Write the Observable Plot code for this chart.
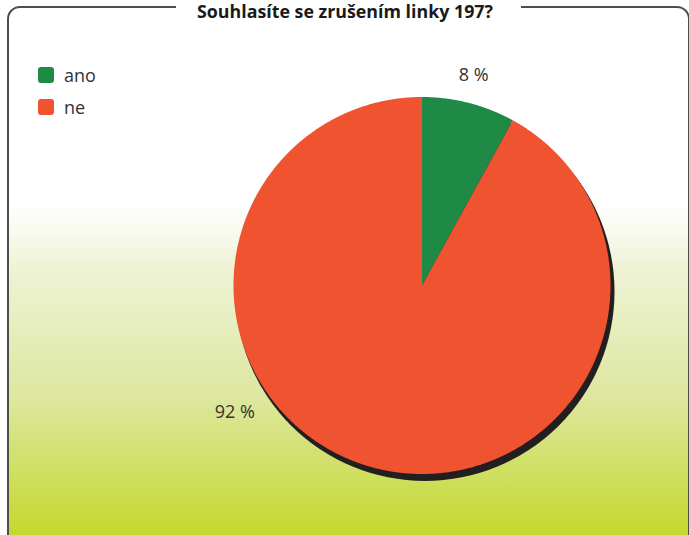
<!DOCTYPE html>
<html>
<head>
<meta charset="utf-8">
<script src="https://cdn.jsdelivr.net/npm/d3@7"></script>
<script src="https://cdn.jsdelivr.net/npm/@observablehq/plot@0.6"></script>
<style>
  html, body { margin: 0; padding: 0; background: #fff; }
  #wrap { position: relative; width: 689px; height: 535px; overflow: hidden; background: #fff; font-family: "Open Sans", sans-serif; }
  #frame { position: absolute; left: 7px; top: 6px; width: 679px; height: 545px; border: 2px solid #4d4d4d; border-radius: 13px;
    background: linear-gradient(to bottom, #ffffff 0px, #ffffff 196px, #eef3d6 260px, #dde79f 390px, #c3d82b 528px); }
  #title { position: absolute; left: 0; top: 0; }
  #legend { position: absolute; left: 38px; top: 67px; }
  .item { display: flex; align-items: center; height: 16px; margin-bottom: 16px; }
  .sw { width: 16px; height: 16px; border-radius: 3px; margin-right: 10px; }
  .lab { font-size: 18px; color: #333; line-height: 16px; }
  #chart { position: absolute; left: 0; top: 0; }
</style>
</head>
<body>
<div id="wrap">
  <div id="frame"></div>
  <div id="chart"></div>
  <div id="legend"></div>
  <svg id="title" width="689" height="24"></svg>
</div>
<script>
// ---- data ----
const categories = ["ano", "ne"];
const values = [8, 92];
const colors = ["#1e8a46", "#f0532f"];
const labels = ["8 %", "92 %"];
const titleText = "Souhlasíte se zrušením linky 197?";

// ---- layout constants ----
const W = 689, H = 535;
const cx = 421.5, cy = 285, R = 188.5;
// label placement (angle in degrees clockwise from 12 o'clock, radius in pie units)
const labelAngles = [13.8, 235.9];
const labelRadii = [1.15, 1.2];

// ---- build slices ----
const arcs = d3.pie().sort(null).value(d => d)(values);
const pts = [];
arcs.forEach((a, i) => {
  const cat = categories[i];
  pts.push({cat, x: 0, y: 0});
  const n = Math.max(2, Math.ceil((a.endAngle - a.startAngle) / 0.005));
  for (let k = 0; k <= n; k++) {
    const t = a.startAngle + (a.endAngle - a.startAngle) * k / n;
    pts.push({cat, x: Math.sin(t), y: Math.cos(t)});
  }
  pts.push({cat, x: 0, y: 0});
});
const labelData = labels.map((t, i) => {
  const a = labelAngles[i] * Math.PI / 180;
  return {text: t, x: labelRadii[i] * Math.sin(a), y: labelRadii[i] * Math.cos(a)};
});

const chart = Plot.plot({
  width: W, height: H,
  margin: 0,
  style: {background: "transparent", overflow: "visible"},
  x: {domain: [-cx / R, (W - cx) / R], axis: null},
  y: {domain: [(cy - H) / R, cy / R], axis: null},
  color: {domain: categories, range: colors},
  marks: [
    Plot.dot([{x: 0, y: 0}], {x: "x", y: "y", r: R + 1, fill: "#231f20", stroke: "none", dx: 3, dy: 6}),
    Plot.line(pts, {x: "x", y: "y", z: "cat", fill: "cat", stroke: "none", curve: "linear-closed"}),
    Plot.text(labelData, {x: "x", y: "y", text: "text", fontSize: 18, fill: "#333", fontFamily: "Open Sans"})
  ]
});
document.getElementById("chart").appendChild(chart);

// legend
const lg = document.getElementById("legend");
categories.forEach((c, i) => {
  const d = document.createElement("div");
  d.className = "item";
  d.innerHTML = `<div class="sw" style="background:${colors[i]}"></div><div class="lab">${c}</div>`;
  lg.appendChild(d);
});

// title
const ts = d3.select("#title");
ts.append("rect").attr("x", 176).attr("y", 0).attr("width", 345).attr("height", 16).attr("fill", "#fff");
ts.append("text").attr("x", 345).attr("y", 17.5).attr("text-anchor", "middle")
  .attr("font-family", "Open Sans").attr("font-weight", "bold").attr("font-size", 17)
  .attr("fill", "#1a1a1a").attr("textLength", 296).attr("lengthAdjust", "spacingAndGlyphs")
  .text(titleText);
</script>
</body>
</html>
